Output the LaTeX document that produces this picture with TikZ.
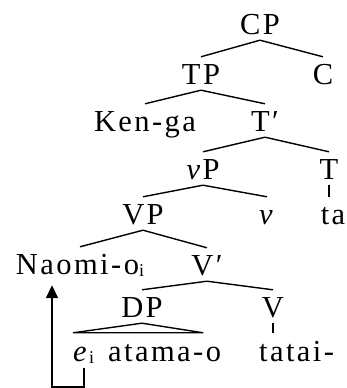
\documentclass[tikz,border=0pt]{standalone}
\usepackage{fontspec}
\setmainfont{Liberation Serif}[LetterSpace=8]
\usetikzlibrary{arrows.meta}

% tree styles
\tikzset{
  cat/.style={anchor=base, inner sep=0pt, text height=28pt, text depth=5pt,
    font=\fontsize{30.5}{36}\selectfont},
  branch/.style={line width=1.4pt},
  trace/.style={line width=1.7pt}
}
\newcommand{\idx}[1]{\raisebox{-2pt}{\fontsize{18}{18}\selectfont #1}}

\begin{document}
\begin{tikzpicture}[x=1pt,y=1pt]
    \useasboundingbox (0,0) rectangle (346,388);

    \node[cat] (CP) at (260,353) {CP};
    \node[cat] (TP) at (201,303) {TP};
    \node[cat] (C) at (323,303) {C};
    \node[cat] (Ken) at (145,256) {Ken-ga};
    \node[cat] (Tbar) at (265,256) {T\char"2032};
    \node[cat] (vP) at (203,208) {\textit{v}P};
    \node[cat] (T) at (329,208) {T};
    \node[cat] (VP) at (143,163) {VP};
    \node[cat] (v) at (267,163) {\textit{v}};
    \node[cat] (ta) at (333,163) {ta};
    \node[cat] (Naomi) at (80,113) {Naomi-o\idx{i}};
    \node[cat] (Vbar) at (207,112) {V\char"2032};
    \node[cat] (DP) at (142,70) {DP};
    \node[cat] (V) at (273,70) {V};
    \node[cat,anchor=base west] (e) at (73,27) {\textit{e}\idx{i}};
    \node[cat,anchor=base west] (atama) at (108,27) {atama-o};
    \node[cat,anchor=base west] (tatai) at (259,27) {tatai-};

    \foreach \a/\b in {CP/TP,CP/C,TP/Ken,TP/Tbar,Tbar/vP,Tbar/T,vP/VP,vP/v,
                       VP/Naomi,VP/Vbar,Vbar/DP,Vbar/V}
        \draw[branch] (\a.south) -- (\b.north);
    \draw[branch] (T.south) -- (T.south |- ta.north);
    \draw[branch] (V.south) -- (V.south |- tatai.north);
    \draw[branch] (DP.south) -- (e.north west) -- ([xshift=-18pt]atama.north east) -- cycle;

    % movement
    \draw[trace,-{Triangle[length=13pt,width=12pt]}]
        ([yshift=-2pt]e.south) -- ++(0,-19) -| ([xshift=-28pt,yshift=-5pt]Naomi.south);
\end{tikzpicture}
\end{document}
